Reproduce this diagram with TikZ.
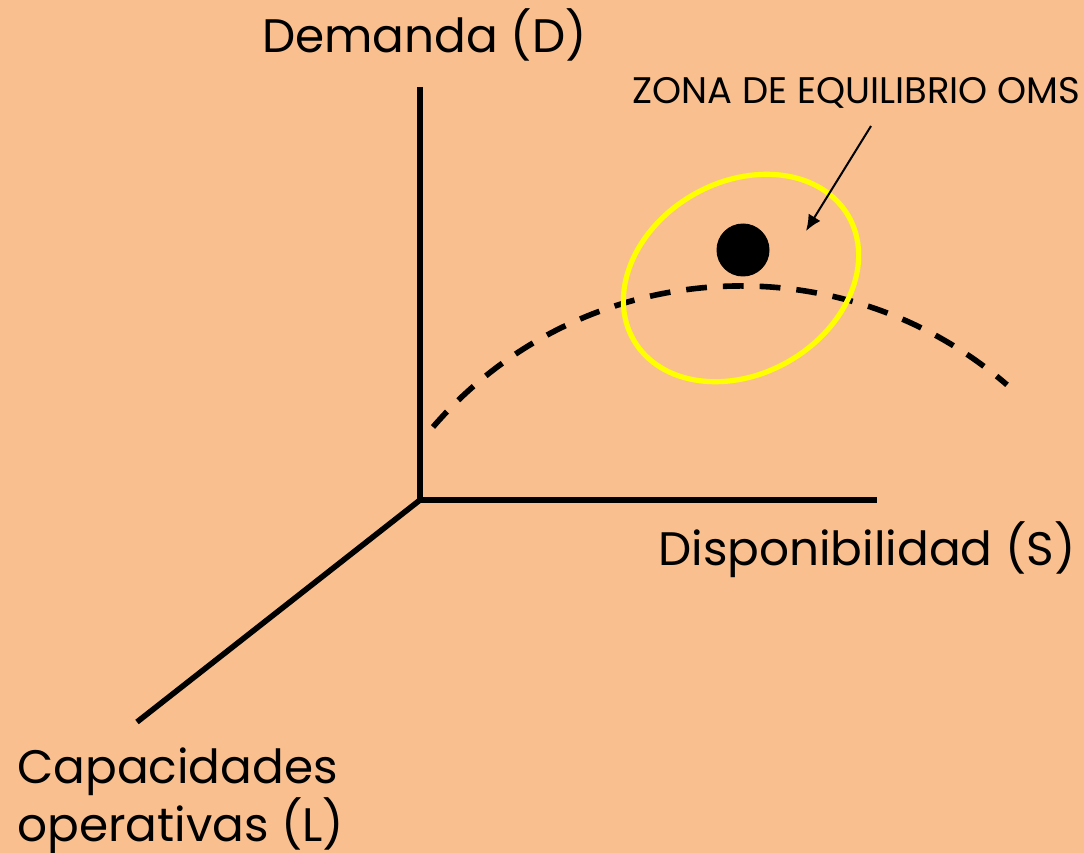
\documentclass[tikz,border=0pt]{standalone}
\usepackage{fontspec}
\setmainfont{Poppins}
\usetikzlibrary{arrows.meta}

\definecolor{peach}{HTML}{F9BF8F}
\definecolor{zoneyellow}{HTML}{FFFF00}
\tikzstyle{axis}=[draw=black, line width=0.14cm]
\tikzstyle{curve}=[draw=black, line width=0.14cm, dash pattern=on 0.52cm off 0.4cm]
\tikzstyle{zone}=[draw=zoneyellow, line width=0.13cm]
\tikzstyle{lbl}=[inner sep=0pt, font=\fontsize{33.4pt}{39.8pt}\selectfont]
\tikzstyle{small}=[inner sep=0pt, font=\fontsize{26.3pt}{30pt}\selectfont]

\begin{document}
\begin{tikzpicture}[x=0.025cm, y=-0.025cm]
\fill[peach] (0,0) rectangle (1084,853);
\useasboundingbox (0,0) rectangle (1084,853);

% axes
\coordinate (O) at (420,500);
\coordinate (Dtop) at (420,87);
\coordinate (Send) at (877,500);
\coordinate (Lend) at (137,722);
\path[axis] (Dtop) -- (O) -- (Send);
\path[axis] (O) -- (Lend);

% dashed curve
\coordinate (curveStart) at (433,427);
\path[curve] (curveStart) arc[start angle=-139.2, end angle=-49.2, radius=407];

% zone
\coordinate (Z) at (741,278);
\path[zone, rotate around={30:(Z)}] (Z) ellipse [x radius=124, y radius=96];
\fill[black] (743,250) circle (26.5);

% labels
\node[lbl, anchor=base west] (demanda) at (262,53) {Demanda (D)};
\node[lbl, anchor=base west] (dispo) at (658,565) {Disponibilidad (S)};
\node[lbl, anchor=base west, align=left] (capac) at (17,841) {\lineskiplimit=-20pt Capacidades\\operativas (L)};
\node[small, anchor=base west] (oms) at (632,104) {ZONA DE EQUILIBRIO OMS};
\coordinate (omsTail) at (871,126);
\coordinate (omsTip) at (806,231);
\draw[line width=0.05cm, -{Latex[length=0.4cm, width=0.35cm]}] (omsTail) -- (omsTip);
\end{tikzpicture}
\end{document}
